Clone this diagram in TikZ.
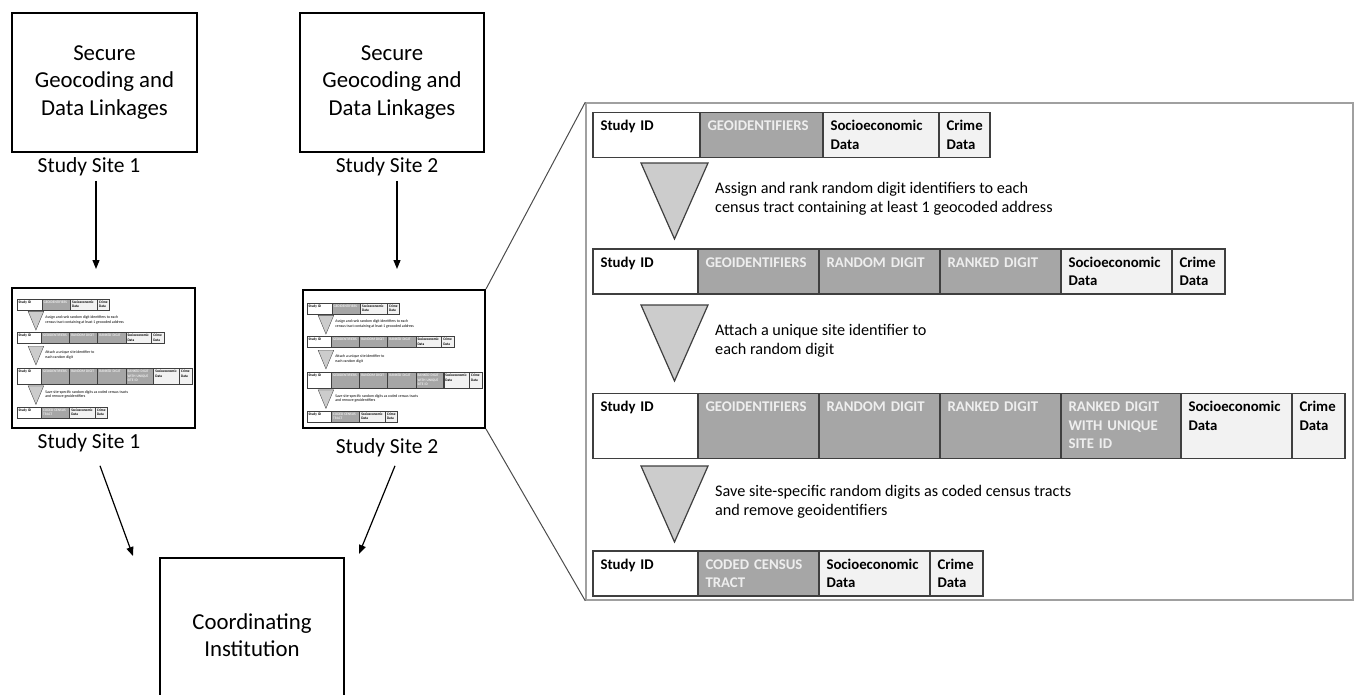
\documentclass[tikz,border=0pt]{standalone}
\usepackage{fontspec}
\setmainfont{Carlito}
\usetikzlibrary{arrows.meta,positioning}

\definecolor{cellrule}{HTML}{3F3F3F}
\definecolor{cellgray}{HTML}{A6A6A6}
\definecolor{celltext}{HTML}{EEEEEE}
\definecolor{cellpale}{HTML}{F2F2F2}
\definecolor{markgray}{HTML}{CCCCCC}
\definecolor{panelrule}{HTML}{A0A0A0}

\begin{document}
\begin{tikzpicture}[
    x=1pt, y=-1pt,
    node distance=3pt,
    sitebox/.style={
      rectangle,
      draw=black,
      line width=2pt,
      align=center,
      font=\fontsize{22.8}{27.5}\selectfont
    },
    sitelabel/.style={
      inner sep=1pt,
      font=\fontsize{21.5}{26}\selectfont
    },
    thumbbox/.style={
      rectangle,
      draw=black,
      line width=2pt,
      fill=white
    },
    panel/.style={
      rectangle,
      draw=panelrule,
      line width=1.5pt
    },
    flow/.style={
      -{Triangle[length=9pt,width=7pt]},
      line width=1.2pt
    },
    zoomline/.style={
      draw=black!70,
      line width=1pt
    },
    cellbase/.style={
      rectangle,
      draw=cellrule,
      line width=1.2pt,
      anchor=north west,
      outer sep=0pt,
      inner xsep=7.5pt,
      inner ysep=4pt,
      text height=14pt,
      text depth=23pt,
      align=left,
      font=\fontsize{14.8}{18.6}\selectfont\bfseries
    },
    idcell/.style={cellbase, fill=white, text width=#1},
    idcell/.default=90pt,
    graycell/.style={cellbase, fill=cellgray, text=celltext, text width=#1},
    graycell/.default=106pt,
    palecell/.style={cellbase, fill=cellpale, text width=#1},
    palecell/.default=96pt,
    tallrow/.style={text depth=43pt},
    stepmark/.style={
      draw=cellrule,
      fill=markgray,
      line width=1.2pt
    },
    steptext/.style={
      anchor=north west,
      inner sep=0pt,
      align=left,
      font=\fontsize{16.2}{19}\selectfont
    },
    thincells/.style={
      cellbase/.append style={line width=0.35pt},
      stepmark/.append style={line width=0.35pt}
    },
    pipeline/.pic={
      % row 1
      \node[idcell=92pt] (r1a) at (0,0) {Study ID};
      \node[graycell=108pt] (r1b) at (r1a.north east) {GEOIDENTIFIERS};
      \node[palecell=101pt] (r1c) at (r1b.north east) {Socioeconomic\\Data};
      \node[palecell=36pt] (r1d) at (r1c.north east) {Crime\\Data};
      % row 2
      \node[idcell] (r2a) at (0,136.5) {Study ID};
      \node[graycell] (r2b) at (r2a.north east) {GEOIDENTIFIERS};
      \node[graycell] (r2c) at (r2b.north east) {RANDOM DIGIT};
      \node[graycell] (r2d) at (r2c.north east) {RANKED DIGIT};
      \node[palecell] (r2e) at (r2d.north east) {Socioeconomic\\Data};
      \node[palecell=38pt] (r2f) at (r2e.north east) {Crime\\Data};
      % row 3
      \node[idcell, tallrow] (r3a) at (0,281) {Study ID};
      \node[graycell, tallrow] (r3b) at (r3a.north east) {GEOIDENTIFIERS};
      \node[graycell, tallrow] (r3c) at (r3b.north east) {RANDOM DIGIT};
      \node[graycell, tallrow] (r3d) at (r3c.north east) {RANKED DIGIT};
      \node[graycell=105pt, tallrow] (r3e) at (r3d.north east) {RANKED DIGIT\\WITH UNIQUE\\SITE ID};
      \node[palecell, tallrow] (r3f) at (r3e.north east) {Socioeconomic\\Data};
      \node[palecell=38pt, tallrow] (r3g) at (r3f.north east) {Crime\\Data};
      % row 4
      \node[idcell] (r4a) at (0,438.5) {Study ID};
      \node[graycell] (r4b) at (r4a.north east) {CODED CENSUS\\TRACT};
      \node[palecell] (r4c) at (r4b.north east) {Socioeconomic\\Data};
      \node[palecell=38pt] (r4d) at (r4c.north east) {Crime\\Data};
      % steps
      \foreach \t in {50.5,192.5,353.5}
        \draw[stepmark] (48,\t) -- (115,\t) -- (81.5,\t+76) -- cycle;
      \node[steptext] (s1) at (122,69.5) {Assign and rank random digit identifiers to each\\census tract containing at least 1 geocoded address};
      \node[steptext] (s2) at (122,211.5) {Attach a unique site identifier to\\each random digit};
      \node[steptext] (s3) at (122,372.5) {Save site-specific random digits as coded census tracts\\and remove geoidentifiers};
    }
  ]
  \useasboundingbox (0,0) rectangle (1356,694);
  \clip (0,0) rectangle (1356,694);

  % study sites
  \node[sitebox, minimum width=185pt, minimum height=139pt] (secureA) at (104.5,82.5) {Secure\\Geocoding and\\Data Linkages};
  \node[sitebox, minimum width=184pt, minimum height=139pt] (secureB) at (392,82.5) {Secure\\Geocoding and\\Data Linkages};
  \node[sitelabel, below=of secureA, xshift=-15.5pt] (siteA) {Study Site 1};
  \node[sitelabel, below=of secureB, xshift=-5pt] (siteB) {Study Site 2};

  \node[thumbbox, minimum width=183pt, minimum height=140pt] (thumbA) at (103.5,358) {};
  \node[thumbbox, minimum width=182pt, minimum height=138pt] (thumbB) at (394,359) {};
  \pic[xscale=0.2324, yscale=0.2456, transform shape, thincells] (thumbA-) at (17,299) {pipeline};
  \pic[xscale=0.2324, yscale=0.2456, transform shape, thincells] (thumbB-) at (307,303) {pipeline};
  \node[sitelabel, below=of thumbA, xshift=-14.5pt] (siteA2) {Study Site 1};
  \node[sitelabel, below=8pt of thumbB, xshift=-7pt] (siteB2) {Study Site 2};

  \node[sitebox, minimum width=184pt, minimum height=154pt] (coord) at (252,635) {Coordinating\\Institution};

  % magnified view of site 2
  \node[panel, minimum width=767pt, minimum height=497pt] (zoom) at (969.5,351.5) {};
  \pic (main-) at (593,112.5) {pipeline};
  \draw[zoomline] (thumbB.north east) -- (zoom.north west);
  \draw[zoomline] (thumbB.south east) -- (zoom.south west);

  \draw[flow, shorten <=4pt, shorten >=18pt] ([xshift=7pt]siteA.south) -- ([xshift=-7.5pt]thumbA.north);
  \draw[flow, shorten <=4pt, shorten >=20pt] ([xshift=10pt]siteB.south) -- ([xshift=3pt]thumbB.north);
  \draw[flow] ([shift={(11,13)}]siteA2.south) -- ([shift={(-26,-1)}]coord.north west);
  \draw[flow] ([shift={(8,8)}]siteB2.south) -- ([shift={(14,-3)}]coord.north east);
\end{tikzpicture}
\end{document}
